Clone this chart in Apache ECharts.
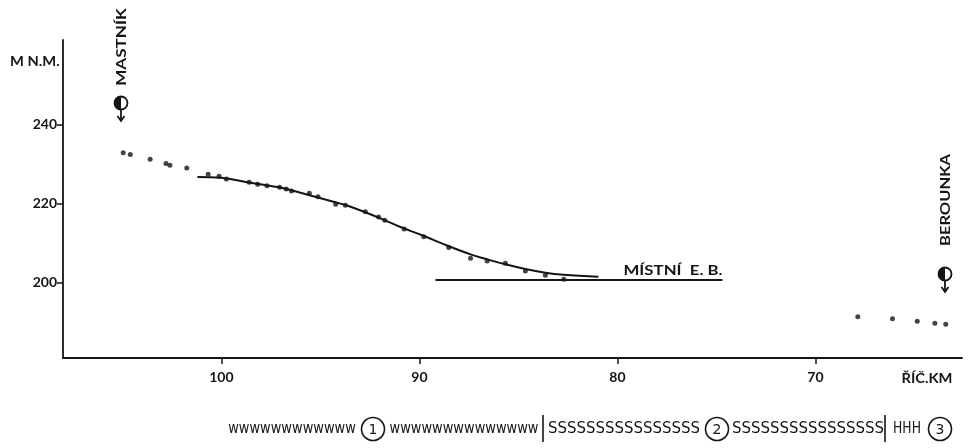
<!DOCTYPE html>
<html>
<head>
<meta charset="utf-8">
<script src="https://cdn.jsdelivr.net/npm/echarts@6/dist/echarts.min.js"></script>
<style>
html,body{margin:0;padding:0;background:#fff;}
#c{width:970px;height:448px;}
</style>
</head>
<body>
<div id="c"></div>
<script>
// measured points (river km, m a.s.l.)
var dotKm   = [104.96,104.6,103.6,102.8,102.6,101.75,100.67,100.12,99.75,98.6,98.17,97.7,97.06,96.73,96.46,95.56,95.12,94.23,93.74,92.73,92.06,91.75,90.77,89.78,88.52,87.42,86.58,85.66,84.65,83.64,82.71];
var dotElev = [232.8,232.4,231.2,230.1,229.7,229.0,227.4,226.9,226.2,225.4,224.9,224.5,224.1,223.7,223.2,222.6,221.7,219.8,219.6,217.9,216.6,215.8,213.6,211.6,208.9,206.2,205.5,204.9,203.0,201.9,200.9];
var lowKm   = [67.86,66.11,64.86,63.97,63.42];
var lowElev = [191.4,190.9,190.3,189.8,189.5];
// fitted curve
var curveKm   = [101.21,100.05,98.54,96.87,96.01,94.34,93.48,91.97,90.96,89.80,88.54,87.42,86.57,85.66,84.65,83.64,82.73,80.96];
var curveElev = [226.69,226.49,225.25,223.84,222.73,220.45,219.19,216.26,214.07,211.87,209.27,207.17,205.91,204.65,203.46,202.53,202.02,201.52];
// local erosion base
var baseKm   = [89.19,74.7];
var baseElev = [200.68,200.68];
// ticks
var xTicks = [100,90,80,70];
var yTicks = [200,220,240];

function pairs(a,b){return a.map(function(v,i){return [v,b[i]];});}

var ink = '#151515';
var font = 'Lato, "DejaVu Sans", sans-serif';
var dv = '"DejaVu Sans", sans-serif';
var chart = echarts.init(document.getElementById('c'), null, {renderer:'canvas'});

function txt(x,y,s,opt){
  opt = opt||{};
  return {type:'text', x:x, y:y, rotation:opt.rot||0, scaleX:opt.sx||1, scaleY:opt.sy||1,
    style:{text:s, fill:ink, font:(opt.fw||'bold')+' '+(opt.fs||14)+'px '+(opt.ff||font),
      align:opt.align||'center', verticalAlign:'middle'}};
}
function mouth(x,y){
  return [
    {type:'circle', shape:{cx:x,cy:y,r:6.5}, style:{fill:'#fff',stroke:ink,lineWidth:1.8}},
    {type:'sector', shape:{cx:x,cy:y,r:6.5,r0:0,startAngle:Math.PI/2,endAngle:Math.PI*1.5}, style:{fill:ink}},
    {type:'line', shape:{x1:x,y1:y+6,x2:x,y2:y+18}, style:{stroke:ink,lineWidth:1.8}},
    {type:'polyline', shape:{points:[[x-3.5,y+13],[x,y+18],[x+3.5,y+13]]}, style:{stroke:ink,lineWidth:1.8,fill:null}}
  ];
}
function ring(x,y,s){
  return [
    {type:'circle', shape:{cx:x,cy:y,r:11.5}, style:{fill:'#fff',stroke:ink,lineWidth:1.6}},
    txt(x,y+1,s,{fs:14,fw:'normal',ff:dv})
  ];
}

var graphics = [];
graphics.push(txt(10,61,'M N.M.',{fs:14,align:'left',sx:1.05}));
graphics.push(txt(927,378,'ŘÍČ.KM',{fs:14,sx:1.05}));
graphics.push(txt(121,47,'MASTNÍK',{fs:14,rot:Math.PI/2,sx:1.22}));
graphics = graphics.concat(mouth(121,103));
graphics.push(txt(945,200,'BEROUNKA',{fs:14,rot:Math.PI/2,sx:1.18}));
graphics = graphics.concat(mouth(945,274));
graphics.push(txt(673,270,'MÍSTNÍ  E. B.',{fs:14,sx:1.2}));
// bottom legend strip
var by = 429;
var sOpt = {fs:13,fw:'normal',ff:dv,sx:1.15,sy:1.15};
graphics.push(txt(292,by,'wwwwwwwwwwww',{fs:13,fw:'normal',ff:dv,sx:1.0,sy:1.2}));
graphics = graphics.concat(ring(373,by,'1'));
graphics.push(txt(464,by,'wwwwwwwwwwwwww',{fs:13,fw:'normal',ff:dv,sx:1.0,sy:1.2}));
graphics.push({type:'line', shape:{x1:543,y1:415,x2:543,y2:442}, style:{stroke:ink,lineWidth:1.6}});
graphics.push(txt(624,by,'SSSSSSSSSSSSSSSS',sOpt));
graphics = graphics.concat(ring(717,by,'2'));
graphics.push(txt(808,by,'SSSSSSSSSSSSSSSS',sOpt));
graphics.push({type:'line', shape:{x1:885,y1:415,x2:885,y2:442}, style:{stroke:ink,lineWidth:1.6}});
graphics.push(txt(907,by,'HHH',{fs:13,fw:'normal',ff:dv,sx:0.95,sy:1.15}));
graphics = graphics.concat(ring(940,by,'3'));

chart.setOption({
  animation:false,
  backgroundColor:'#fff',
  grid:{left:63,right:8,top:40,bottom:90},
  xAxis:{type:'value', inverse:true, min:62.6, max:108,
    axisLine:{lineStyle:{color:ink,width:1.8}},
    axisTick:{customValues:xTicks, length:6, lineStyle:{color:ink,width:1.5}},
    axisLabel:{customValues:xTicks, color:ink, fontSize:14, fontWeight:'bold', fontFamily:font, margin:12},
    splitLine:{show:false}},
  yAxis:{type:'value', min:181, max:261.3,
    axisLine:{show:true, lineStyle:{color:ink,width:1.8}},
    axisTick:{show:true, customValues:yTicks, length:6, lineStyle:{color:ink,width:1.5}},
    axisLabel:{customValues:yTicks, color:ink, fontSize:14, fontWeight:'bold', fontFamily:font, margin:6},
    splitLine:{show:false}},
  series:[
    {type:'line', data:pairs(curveKm,curveElev), smooth:0.4, symbol:'none', lineStyle:{color:ink,width:2}, z:3},
    {type:'line', data:pairs(baseKm,baseElev), symbol:'none', lineStyle:{color:ink,width:2}, z:3},
    {type:'scatter', data:pairs(dotKm,dotElev), symbolSize:5, itemStyle:{color:ink}, z:4},
    {type:'scatter', data:pairs(lowKm,lowElev), symbolSize:5, itemStyle:{color:ink}, z:4}
  ],
  graphic:graphics
});
</script>
</body>
</html>
